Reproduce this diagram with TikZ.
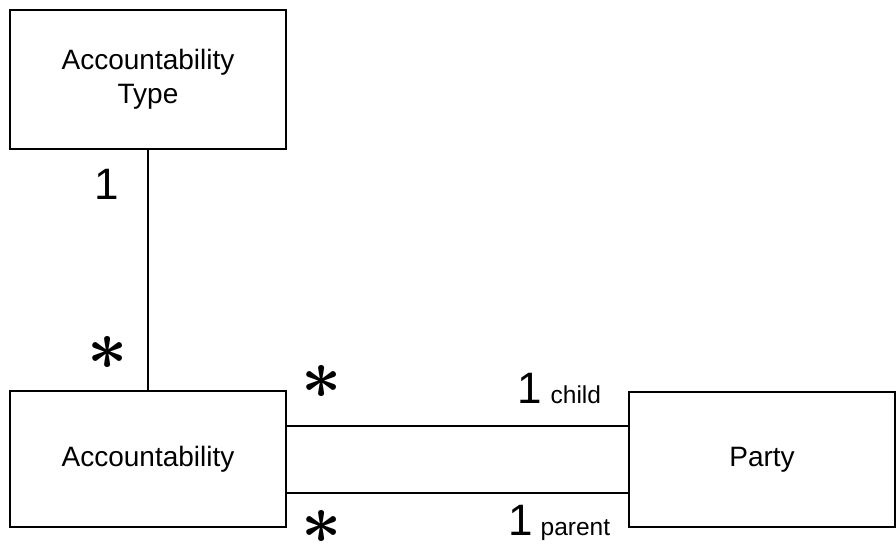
\documentclass[tikz,border=0pt]{standalone}
\usepackage{amsmath}
\usepackage{fontspec}
\setmainfont{Liberation Sans}
\usetikzlibrary{positioning}
\tikzset{
  classbox/.style={draw, line width=1.6pt, align=center, inner sep=0pt,
    font=\fontsize{28}{34}\selectfont},
  mult/.style={anchor=base west, inner sep=0pt, font=\fontsize{44}{44}\selectfont},
  star/.style={inner sep=0pt}
}
\newcommand{\rolename}[1]{{\fontsize{24.5}{24.5}\selectfont #1}}
\newcommand{\manystar}{\scalebox{7}{$\boldsymbol{\ast}$}}

\begin{document}
\begin{tikzpicture}[x=1pt, y=-1pt]
  \useasboundingbox (0,0) rectangle (896,545);
  % classes
  \node [classbox, minimum width=276pt, minimum height=139pt] (acctype) at (148,79.5) {Accountability\\Type};
  \node [classbox, minimum width=276pt, minimum height=136pt] (acc) at (148,459) {Accountability};
  \node [classbox, minimum width=266pt, minimum height=135pt] (party) at (762,459.5) {Party};

  % associations
  \coordinate (childend) at ([yshift=33pt]acc.east);
  \coordinate (parentend) at ([yshift=-34pt]acc.east);
  \draw [line width=1.6pt] (acctype.south) -- (acc.north);
  \draw [line width=1.6pt] (childend) -- (childend -| party.west);
  \draw [line width=1.6pt] (parentend) -- (parentend -| party.west);

  % multiplicities
  \node [mult] (typeone) at (94,200) {1};
  \node [star] (typestar) at (108,353) {\manystar};
  \node [star] (childstar) at (322,382) {\manystar};
  \node [star] (parentstar) at (322,527) {\manystar};
  \node [mult] (childone) at (517,403) {1\hspace{9pt}\rolename{child}};
  \node [mult] (parentone) at (508,535) {1\hspace{8pt}\rolename{parent}};
\end{tikzpicture}
\end{document}
